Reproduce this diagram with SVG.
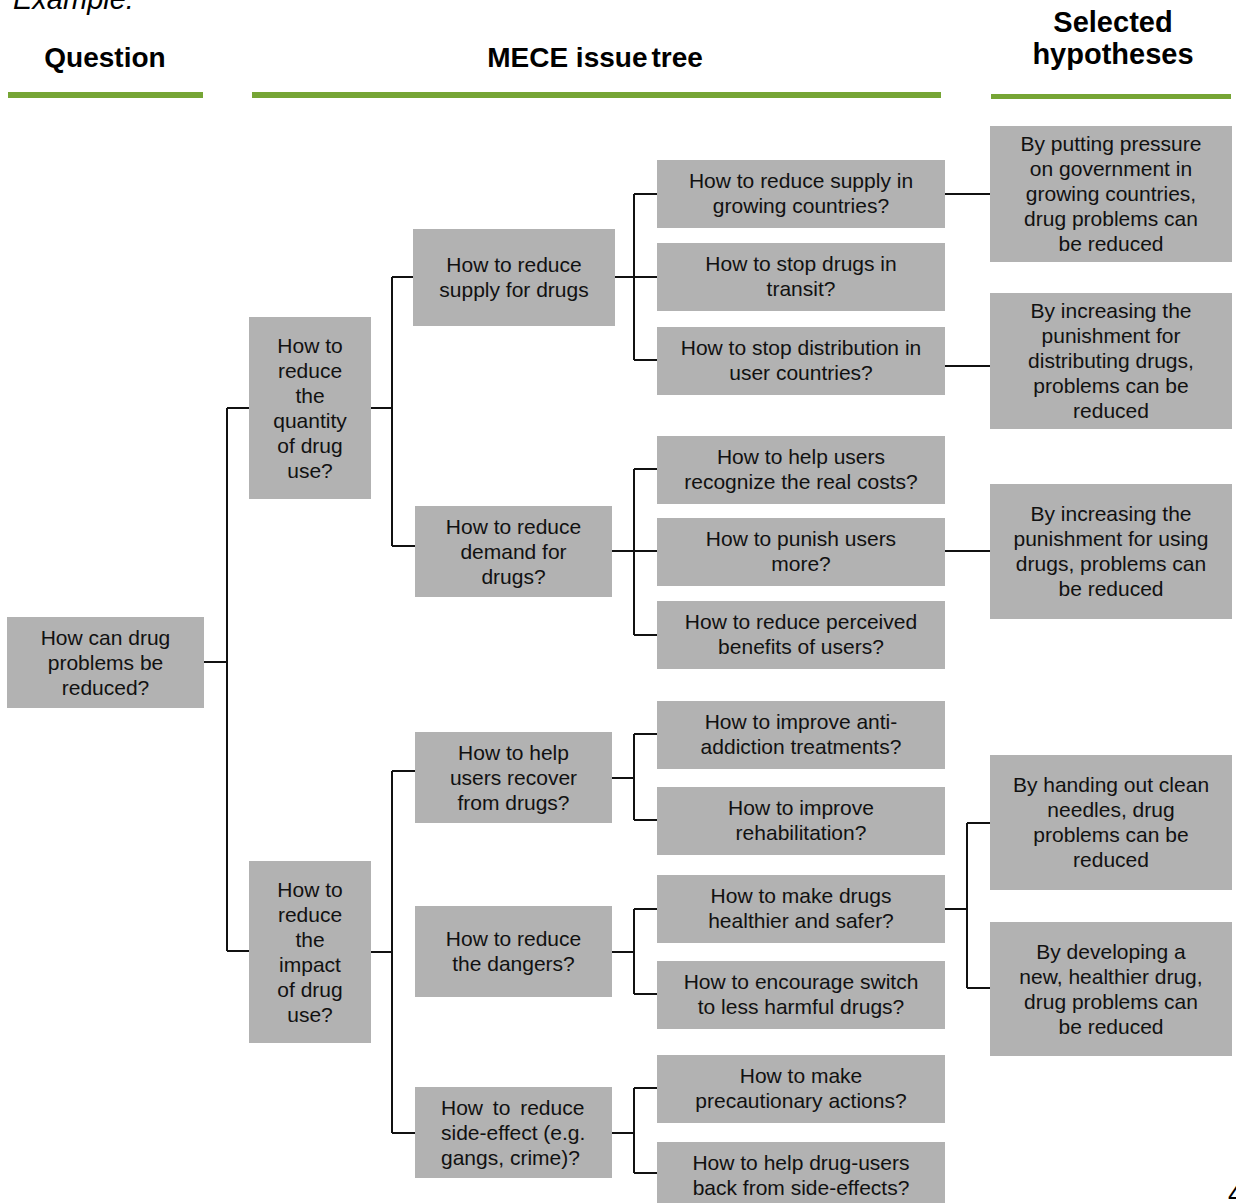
<svg xmlns="http://www.w3.org/2000/svg" width="1236" height="1203" viewBox="0 0 1236 1203">
  <style>
    .box { fill: #b2b2b2; }
    .lbl { font-family: "Liberation Sans", Arial, sans-serif; font-size: 21px; fill: #111; text-anchor: middle; }
    .lbl.left { text-anchor: start; }
    .hdr { font-family: "Liberation Sans", Arial, sans-serif; font-weight: bold; fill: #000; text-anchor: middle; }
    .bar { fill: #76a535; }
    .wire { fill: none; stroke: #111; stroke-width: 2; }
  </style>

  <!-- page headings -->
  <g id="headings">
    <text x="13" y="9" font-family="'Liberation Sans', Arial, sans-serif" font-style="italic" font-size="29" fill="#000">Example:</text>
    <text class="hdr" x="105" y="66.5" font-size="28">Question</text>
    <text class="hdr" x="595" y="66.5" font-size="28">MECE issue<tspan dx="4">tree</tspan></text>
    <text class="hdr" x="1113" y="32" font-size="29">Selected</text>
    <text class="hdr" x="1113" y="64" font-size="29">hypotheses</text>
    <rect class="bar" x="8" y="92" width="195" height="6"/>
    <rect class="bar" x="252" y="92" width="689" height="6"/>
    <rect class="bar" x="991" y="94" width="240" height="5"/>
  </g>

  <!-- tree connectors -->
  <g id="connectors" class="wire">
    <path d="M204 662H227M227 408V951M227 408H249M227 951H249"/>
    <path d="M371 408H392M392 277V546M392 277H413M392 546H415"/>
    <path d="M371 952H392M392 771V1133M392 771H415M392 1133H415"/>
    <path d="M615 277H657M634 194V360M634 194H657M634 360H657"/>
    <path d="M612 551H657M634 469V635M634 469H657M634 635H657"/>
    <path d="M612 778H634M634 734V820M634 734H657M634 820H657"/>
    <path d="M612 952H634M634 909V994M634 909H657M634 994H657"/>
    <path d="M612 1133H634M634 1088V1173M634 1088H657M634 1173H657"/>
    <path d="M945 194H990"/>
    <path d="M945 366H990"/>
    <path d="M945 551H990"/>
    <path d="M945 909H967M967 823V988M967 823H990M967 988H990"/>
  </g>

  <!-- question -->
  <g id="n-root">
    <rect class="box" x="7" y="617" width="197" height="91"/>
    <text class="lbl" x="105.5" y="644.5"><tspan x="105.5">How can drug</tspan><tspan x="105.5" dy="25">problems be</tspan><tspan x="105.5" dy="25">reduced?</tspan></text>
  </g>

  <!-- first level -->
  <g id="n-quantity">
    <rect class="box" x="249" y="317" width="122" height="182"/>
    <text class="lbl" x="310" y="352.5"><tspan x="310">How to</tspan><tspan x="310" dy="25">reduce</tspan><tspan x="310" dy="25">the</tspan><tspan x="310" dy="25">quantity</tspan><tspan x="310" dy="25">of drug</tspan><tspan x="310" dy="25">use?</tspan></text>
  </g>
  <g id="n-impact">
    <rect class="box" x="249" y="861" width="122" height="182"/>
    <text class="lbl" x="310" y="896.5"><tspan x="310">How to</tspan><tspan x="310" dy="25">reduce</tspan><tspan x="310" dy="25">the</tspan><tspan x="310" dy="25">impact</tspan><tspan x="310" dy="25">of drug</tspan><tspan x="310" dy="25">use?</tspan></text>
  </g>

  <!-- second level -->
  <g id="n-supply">
    <rect class="box" x="413" y="229" width="202" height="97"/>
    <text class="lbl" x="514" y="272"><tspan x="514">How to reduce</tspan><tspan x="514" dy="25">supply for drugs</tspan></text>
  </g>
  <g id="n-demand">
    <rect class="box" x="415" y="506" width="197" height="91"/>
    <text class="lbl" x="513.5" y="533.5"><tspan x="513.5">How to reduce</tspan><tspan x="513.5" dy="25">demand for</tspan><tspan x="513.5" dy="25">drugs?</tspan></text>
  </g>
  <g id="n-recover">
    <rect class="box" x="415" y="732" width="197" height="91"/>
    <text class="lbl" x="513.5" y="759.5"><tspan x="513.5">How to help</tspan><tspan x="513.5" dy="25">users recover</tspan><tspan x="513.5" dy="25">from drugs?</tspan></text>
  </g>
  <g id="n-dangers">
    <rect class="box" x="415" y="906" width="197" height="91"/>
    <text class="lbl" x="513.5" y="946"><tspan x="513.5">How to reduce</tspan><tspan x="513.5" dy="25">the dangers?</tspan></text>
  </g>
  <g id="n-side">
    <rect class="box" x="415" y="1087" width="197" height="91"/>
    <text class="lbl left" x="441" y="1114.5"><tspan x="441" word-spacing="4">How to reduce</tspan><tspan x="441" dy="25">side-effect (e.g.</tspan><tspan x="441" dy="25">gangs, crime)?</tspan></text>
  </g>

  <!-- third level -->
  <g id="n-growing">
    <rect class="box" x="657" y="160" width="288" height="68"/>
    <text class="lbl" x="801" y="187.5"><tspan x="801">How to reduce supply in</tspan><tspan x="801" dy="25">growing countries?</tspan></text>
  </g>
  <g id="n-transit">
    <rect class="box" x="657" y="243" width="288" height="68"/>
    <text class="lbl" x="801" y="270.5"><tspan x="801">How to stop drugs in</tspan><tspan x="801" dy="25">transit?</tspan></text>
  </g>
  <g id="n-distribution">
    <rect class="box" x="657" y="327" width="288" height="68"/>
    <text class="lbl" x="801" y="354.5"><tspan x="801">How to stop distribution in</tspan><tspan x="801" dy="25">user countries?</tspan></text>
  </g>
  <g id="n-costs">
    <rect class="box" x="657" y="436" width="288" height="68"/>
    <text class="lbl" x="801" y="463.5"><tspan x="801">How to help users</tspan><tspan x="801" dy="25">recognize the real costs?</tspan></text>
  </g>
  <g id="n-punish">
    <rect class="box" x="657" y="518" width="288" height="68"/>
    <text class="lbl" x="801" y="545.5"><tspan x="801">How to punish users</tspan><tspan x="801" dy="25">more?</tspan></text>
  </g>
  <g id="n-benefits">
    <rect class="box" x="657" y="601" width="288" height="68"/>
    <text class="lbl" x="801" y="628.5"><tspan x="801">How to reduce perceived</tspan><tspan x="801" dy="25">benefits of users?</tspan></text>
  </g>
  <g id="n-treatments">
    <rect class="box" x="657" y="701" width="288" height="68"/>
    <text class="lbl" x="801" y="728.5"><tspan x="801">How to improve anti-</tspan><tspan x="801" dy="25">addiction treatments?</tspan></text>
  </g>
  <g id="n-rehab">
    <rect class="box" x="657" y="787" width="288" height="68"/>
    <text class="lbl" x="801" y="814.5"><tspan x="801">How to improve</tspan><tspan x="801" dy="25">rehabilitation?</tspan></text>
  </g>
  <g id="n-safer">
    <rect class="box" x="657" y="875" width="288" height="68"/>
    <text class="lbl" x="801" y="902.5"><tspan x="801">How to make drugs</tspan><tspan x="801" dy="25">healthier and safer?</tspan></text>
  </g>
  <g id="n-switch">
    <rect class="box" x="657" y="961" width="288" height="68"/>
    <text class="lbl" x="801" y="988.5"><tspan x="801">How to encourage switch</tspan><tspan x="801" dy="25">to less harmful drugs?</tspan></text>
  </g>
  <g id="n-precaution">
    <rect class="box" x="657" y="1055" width="288" height="68"/>
    <text class="lbl" x="801" y="1082.5"><tspan x="801">How to make</tspan><tspan x="801" dy="25">precautionary actions?</tspan></text>
  </g>
  <g id="n-aftercare">
    <rect class="box" x="657" y="1142" width="288" height="68"/>
    <text class="lbl" x="801" y="1169.5"><tspan x="801">How to help drug-users</tspan><tspan x="801" dy="25">back from side-effects?</tspan></text>
  </g>

  <!-- hypotheses -->
  <g id="h-pressure">
    <rect class="box" x="990" y="126" width="242" height="136"/>
    <text class="lbl" x="1111" y="151"><tspan x="1111">By putting pressure</tspan><tspan x="1111" dy="25">on government in</tspan><tspan x="1111" dy="25">growing countries,</tspan><tspan x="1111" dy="25">drug problems can</tspan><tspan x="1111" dy="25">be reduced</tspan></text>
  </g>
  <g id="h-distributing">
    <rect class="box" x="990" y="293" width="242" height="136"/>
    <text class="lbl" x="1111" y="318"><tspan x="1111">By increasing the</tspan><tspan x="1111" dy="25">punishment for</tspan><tspan x="1111" dy="25">distributing drugs,</tspan><tspan x="1111" dy="25">problems can be</tspan><tspan x="1111" dy="25">reduced</tspan></text>
  </g>
  <g id="h-using">
    <rect class="box" x="990" y="484" width="242" height="135"/>
    <text class="lbl" x="1111" y="521"><tspan x="1111">By increasing the</tspan><tspan x="1111" dy="25">punishment for using</tspan><tspan x="1111" dy="25">drugs, problems can</tspan><tspan x="1111" dy="25">be reduced</tspan></text>
  </g>
  <g id="h-needles">
    <rect class="box" x="990" y="755" width="242" height="135"/>
    <text class="lbl" x="1111" y="792"><tspan x="1111">By handing out clean</tspan><tspan x="1111" dy="25">needles, drug</tspan><tspan x="1111" dy="25">problems can be</tspan><tspan x="1111" dy="25">reduced</tspan></text>
  </g>
  <g id="h-newdrug">
    <rect class="box" x="990" y="922" width="242" height="134"/>
    <text class="lbl" x="1111" y="958.5"><tspan x="1111">By developing a</tspan><tspan x="1111" dy="25">new, healthier drug,</tspan><tspan x="1111" dy="25">drug problems can</tspan><tspan x="1111" dy="25">be reduced</tspan></text>
  </g>

  <!-- page number -->
  <text x="1228" y="1203" font-family="'Liberation Sans', Arial, sans-serif" font-size="28" fill="#000">4</text>
</svg>
